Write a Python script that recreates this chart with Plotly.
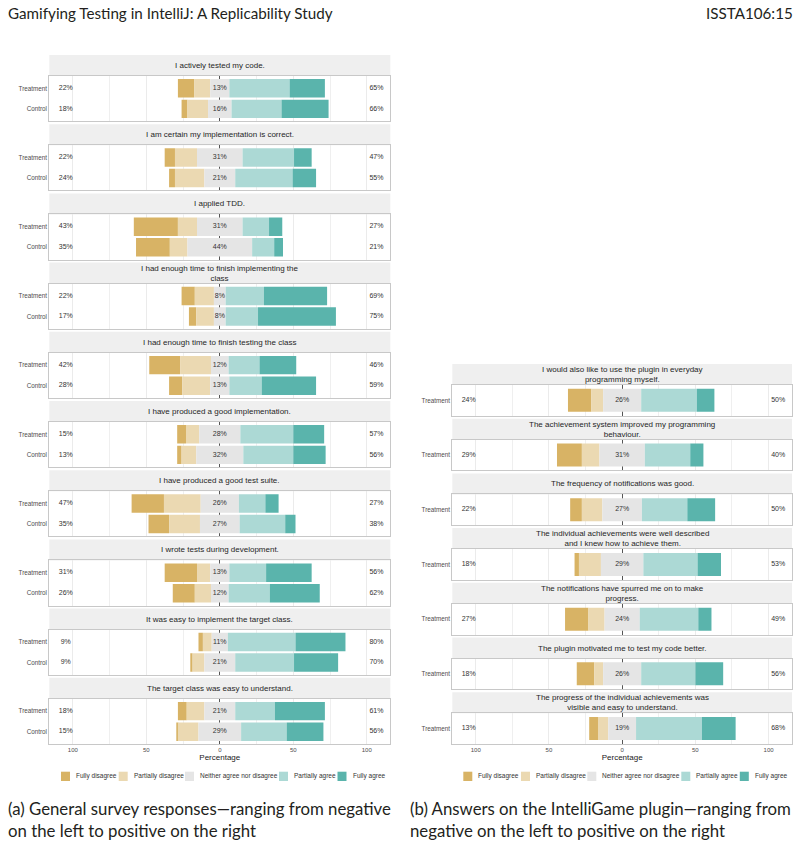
import textwrap
import plotly.graph_objects as go

LEVELS = ['Fully disagree', 'Partially disagree', 'Neither agree nor disagree',
          'Partially agree', 'Fully agree']
LEVEL_COLORS = ['#D8B365', '#EBD9B2', '#E5E5E5', '#ACD9D5', '#5AB4AC']

GROUPS = ['Treatment', 'Control']

# General survey questions, percentages per level (fully dis .. fully agree)
GENERAL_QUESTIONS = [
    'I actively tested my code.',
    'I am certain my implementation is correct.',
    'I applied TDD.',
    'I had enough time to finish implementing the class',
    'I had enough time to finish testing the class',
    'I have produced a good implementation.',
    'I have produced a good test suite.',
    'I wrote tests during development.',
    'It was easy to implement the target class.',
    'The target class was easy to understand.',
]
GENERAL_TREATMENT = [
    [11, 11, 13, 41, 24],
    [7, 15, 31, 35, 12],
    [30, 13, 31, 18, 9],
    [9, 13, 8, 26, 43],
    [21, 21, 12, 21, 25],
    [6, 9, 28, 36, 21],
    [22, 25, 26, 18, 9],
    [22, 9, 13, 25, 31],
    [3, 6, 11, 46, 34],
    [6, 12, 21, 27, 34],
]
GENERAL_CONTROL = [
    [4, 14, 16, 34, 32],
    [4, 20, 21, 39, 16],
    [23, 12, 44, 15, 6],
    [5, 12, 8, 22, 53],
    [9, 19, 13, 22, 37],
    [3, 10, 32, 34, 22],
    [14, 21, 27, 31, 7],
    [15, 11, 12, 28, 34],
    [1, 8, 21, 40, 30],
    [1, 14, 29, 31, 25],
]

# Questions about the plugin, treatment group only
PLUGIN_QUESTIONS = [
    'I would also like to use the plugin in everyday programming myself.',
    'The achievement system improved my programming behaviour.',
    'The frequency of notifications was good.',
    'The individual achievements were well described and I knew how to achieve them.',
    'The notifications have spurred me on to make progress.',
    'The plugin motivated me to test my code better.',
    'The progress of the individual achievements was visible and easy to understand.',
]
PLUGIN_TREATMENT = [
    [16, 8, 26, 38, 12],
    [17, 12, 31, 31, 9],
    [8, 14, 27, 31, 19],
    [3, 15, 29, 37, 16],
    [16, 11, 24, 40, 9],
    [12, 6, 26, 37, 19],
    [6, 7, 19, 45, 23],
]

TICK_VALUES = [-100, -50, 0, 50, 100]
TICK_LABELS = ['100', '50', '0', '50', '100']
MINOR_TICKS = [-75, -25, 25, 75]

W, H = 801, 847
FONT = 'Liberation Sans'
TEXT_DARK = '#333333'
LOW_X, HIGH_X = -104.8, 106.6


def px(x):
    return x / W


def py(y):
    return 1 - y / H


fig = go.Figure()
shapes = []
annotations = []


# Adds one facet: strip on top, stacked diverging bars and percentage labels
def add_facet(k, question, groups, values, xdom, top, panel_h, bottom):
    xa, ya = 'x%d' % k, 'y%d' % k
    for lvl in range(5):
        bases, widths = [], []
        for v in values:
            start = -(v[2] / 2 + v[1] + v[0])
            bases.append(start + sum(v[:lvl]))
            widths.append(v[lvl])
        fig.add_trace(go.Bar(
            y=groups, x=widths, base=bases, orientation='h', width=0.9,
            marker=dict(color=LEVEL_COLORS[lvl], line=dict(width=0)),
            name=LEVELS[lvl], showlegend=False, hoverinfo='skip',
            xaxis=xa, yaxis=ya))
    tx, ty, tt = [], [], []
    for g, v in zip(groups, values):
        tx += [LOW_X, 0, HIGH_X]
        ty += [g, g, g]
        tt += ['%d%%' % (v[0] + v[1]), '%d%%' % v[2], '%d%%' % (v[3] + v[4])]
    fig.add_trace(go.Scatter(
        x=tx, y=ty, text=tt, mode='text', showlegend=False, hoverinfo='skip',
        textfont=dict(size=7, color=TEXT_DARK, family=FONT),
        xaxis=xa, yaxis=ya))

    p_top = top + 21
    p_bot = p_top + panel_h
    n = len(groups)
    fig.layout['xaxis%d' % k] = dict(
        domain=[px(xdom[0]), px(xdom[1])], anchor=ya, range=[-116, 116],
        tickvals=TICK_VALUES, ticktext=TICK_LABELS, showticklabels=bottom,
        ticks='', showgrid=True, gridcolor='#EBEBEB', gridwidth=0.6,
        minor=dict(tickvals=MINOR_TICKS, showgrid=True, gridcolor='#EFEFEF', gridwidth=0.5),
        zeroline=True, zerolinecolor='#555555', zerolinewidth=1,
        showline=True, mirror=True, linecolor='#C8C8C8', linewidth=1,
        tickfont=dict(size=6, color='#4D4D4D', family=FONT),
        title=dict(text='Percentage' if bottom else '', standoff=1,
                   font=dict(size=8, color='#1A1A1A', family=FONT)),
        fixedrange=True)
    fig.layout['yaxis%d' % k] = dict(
        domain=[py(p_bot), py(p_top)], anchor=xa,
        categoryorder='array', categoryarray=list(reversed(groups)),
        range=[-0.6, n - 0.4], ticks='', showgrid=False, zeroline=False,
        showline=True, mirror=True, linecolor='#C8C8C8', linewidth=1,
        tickfont=dict(size=6.3, color='#4D4D4D', family=FONT),
        fixedrange=True)

    shapes.append(dict(type='rect', xref='paper', yref='paper',
                       x0=px(xdom[0]), x1=px(xdom[1]), y0=py(top + 21), y1=py(top),
                       fillcolor='#EFEFEF', line=dict(width=0), layer='below'))
    annotations.append(dict(
        xref='paper', yref='paper', x=px((xdom[0] + xdom[1]) / 2), y=py(top + 10.5),
        text='<br>'.join(textwrap.wrap(question, 48)), showarrow=False,
        xanchor='center', yanchor='middle', align='center',
        font=dict(size=8, color='#262626', family=FONT)))


# Left panel: general survey
left_dom = (49.3, 390.3)
for i, q in enumerate(GENERAL_QUESTIONS):
    add_facet(i + 1, q, GROUPS, [GENERAL_TREATMENT[i], GENERAL_CONTROL[i]],
              left_dom, 55 + i * 69.2, 45.2, i == len(GENERAL_QUESTIONS) - 1)

# Right panel: plugin survey
right_dom = (452.3, 792)
for j, q in enumerate(PLUGIN_QUESTIONS):
    add_facet(len(GENERAL_QUESTIONS) + j + 1, q, ['Treatment'], [PLUGIN_TREATMENT[j]],
              right_dom, 364 + j * 54.7, 30.7, j == len(PLUGIN_QUESTIONS) - 1)

# Legends under each panel
KEY_OFFSETS = [0, 57.7, 124, 218, 276.5]
for start in (61, 463.3):
    for off, lvl, col in zip(KEY_OFFSETS, LEVELS, LEVEL_COLORS):
        shapes.append(dict(type='rect', xref='paper', yref='paper',
                           x0=px(start + off), x1=px(start + off + 9),
                           y0=py(781), y1=py(771.7), fillcolor=col, line=dict(width=0)))
        annotations.append(dict(xref='paper', yref='paper', x=px(start + off + 13),
                                y=py(776.3), text=lvl, showarrow=False,
                                xanchor='left', yanchor='middle',
                                font=dict(size=6.5, color=TEXT_DARK, family=FONT)))

# Page header and sub-captions
PAGE_FONT = 'Lato'
HEAD_SIZE = 15.2
CAP_SIZE = 16.8
annotations += [
    dict(xref='paper', yref='paper', x=px(6), y=py(13), xanchor='left', yanchor='middle',
         text='Gamifying Testing in IntelliJ: A Replicability Study', showarrow=False,
         font=dict(size=HEAD_SIZE, color='#231F20', family=PAGE_FONT)),
    dict(xref='paper', yref='paper', x=px(794.5), y=py(13), xanchor='right', yanchor='middle',
         text='ISSTA106:15', showarrow=False,
         font=dict(size=HEAD_SIZE, color='#231F20', family=PAGE_FONT)),
    dict(xref='paper', yref='paper', x=px(6), y=py(808), xanchor='left', yanchor='middle',
         text='(a) General survey responses—ranging from negative', showarrow=False,
         font=dict(size=CAP_SIZE, color='#231F20', family=PAGE_FONT)),
    dict(xref='paper', yref='paper', x=px(6), y=py(830), xanchor='left', yanchor='middle',
         text='on the left to positive on the right', showarrow=False,
         font=dict(size=CAP_SIZE, color='#231F20', family=PAGE_FONT)),
    dict(xref='paper', yref='paper', x=px(408), y=py(808), xanchor='left', yanchor='middle',
         text='(b) Answers on the IntelliGame plugin—ranging from', showarrow=False,
         font=dict(size=CAP_SIZE, color='#231F20', family=PAGE_FONT)),
    dict(xref='paper', yref='paper', x=px(408), y=py(830), xanchor='left', yanchor='middle',
         text='negative on the left to positive on the right', showarrow=False,
         font=dict(size=CAP_SIZE, color='#231F20', family=PAGE_FONT)),
]

fig.update_layout(
    width=W, height=H, margin=dict(l=0, r=0, t=0, b=0),
    paper_bgcolor='white', plot_bgcolor='white',
    barmode='overlay', showlegend=False,
    font=dict(family=FONT, color=TEXT_DARK),
    shapes=shapes, annotations=annotations,
)

# the page body has a default margin; drop it so the figure fills the window
fig.write_html("out.html", config={'displayModeBar': False},
               post_script="document.body.style.margin = '0';")
